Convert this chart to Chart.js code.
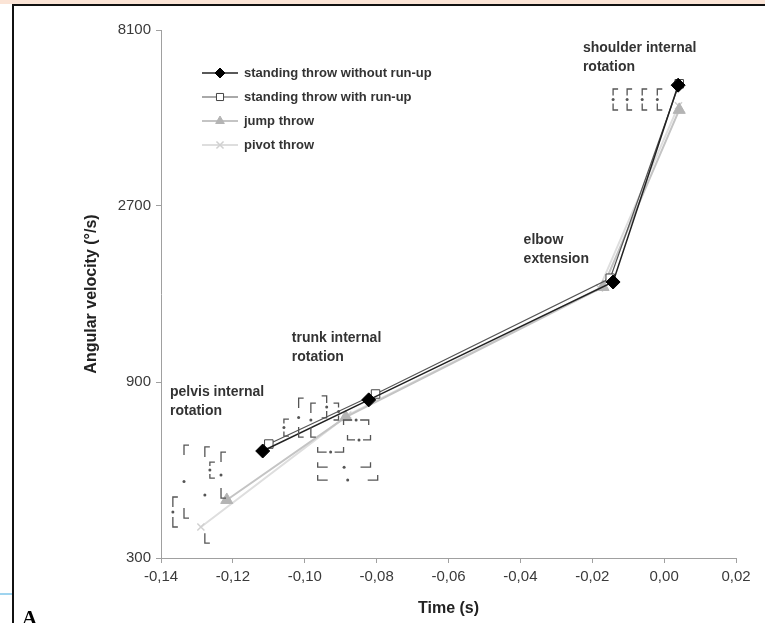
<!DOCTYPE html>
<html>
<head>
<meta charset="utf-8">
<script src="https://cdn.jsdelivr.net/npm/chart.js@4.4.1/dist/chart.umd.min.js"></script>
<style>
  html, body { margin: 0; padding: 0; background: #fff; }
  #wrap { position: relative; width: 765px; height: 623px; overflow: hidden; background: #fff; }
  #c { position: absolute; left: 0; top: 0; }
  .strip { position: absolute; left: 0; top: 0; width: 765px; height: 4px; background: #fbe4d6; }
  .topline { position: absolute; left: 12px; top: 4px; width: 753px; height: 2px; background: #111; }
  .leftline { position: absolute; left: 12px; top: 4px; width: 2px; height: 619px; background: #111; }
  .blue { position: absolute; left: 0; top: 593px; width: 12px; height: 2px; background: #9fd4ef; }
  .lett { position: absolute; left: 22px; top: 608px; font: bold 21px "Liberation Serif"; line-height: 21px; color: #000; }
</style>
</head>
<body>
<div id="wrap">
  <canvas id="c" width="765" height="623"></canvas>
  <div class="strip"></div>
  <div class="topline"></div>
  <div class="leftline"></div>
  <div class="blue"></div>
  <div class="lett">A</div>
</div>
<script>
const xTicks = [-0.14, -0.12, -0.10, -0.08, -0.06, -0.04, -0.02, 0.00, 0.02];
const yTicks = [300, 900, 2700, 8100];

const seriesNames = ['standing throw without run-up', 'standing throw with run-up', 'jump throw', 'pivot throw'];

// phase peaks: pelvis, trunk, elbow, shoulder
const tNoRun = [-0.1117, -0.0822, -0.0142, 0.0039];
const vNoRun = [585, 805, 1680, 5740];
const tRunUp = [-0.1100, -0.0803, -0.0150, 0.0042];
const vRunUp = [611, 835, 1720, 5790];
const tJump  = [-0.1217, -0.0886, -0.0170, 0.0042];
const vJump  = [431, 723, 1629, 4920];
const tPivot = [-0.1289, -0.0880, -0.0180, 0.0040];
const vPivot = [364, 732, 1618, 5050];

const phaseLabels = [['shoulder internal', 'rotation'], ['elbow', 'extension'], ['trunk internal', 'rotation'], ['pelvis internal', 'rotation']];
const phaseT = [-0.0226, -0.0391, -0.1036, -0.1375];
const phaseV = [7239, 2184, 1184, 845];

// significance brackets, vertical: time, upper value, lower value, arm side
const vBrackets = [
  [-0.0142, 5604, 4916, 1], [-0.0103, 5604, 4916, 1], [-0.0061, 5604, 4916, 1], [-0.0019, 5604, 4916, 1],
  [-0.1367, 439, 364, 1], [-0.1336, 607, 385, 1], [-0.1278, 600, 329, 1], [-0.1264, 546, 494, 1], [-0.1233, 581, 436, 1],
  [-0.1017, 814, 638, 1], [-0.0983, 789, 638, 1], [-0.0939, 825, 719, -1], [-0.0906, 789, 710, -1], [-0.1058, 714, 642, 1],
];
// horizontal: value, start time, end time, arm dir (-1 up, 1 down)
const hBrackets = [
  [529, -0.0964, -0.0817, -1], [488, -0.0964, -0.0797, -1], [581, -0.0964, -0.0892, -1],
  [627, -0.0881, -0.0817, -1], [710, -0.0892, -0.0822, 1],
];

const pts = (ts, vs) => ts.map((t, i) => ({ x: t, y: vs[i] }));
const fmtX = v => v.toFixed(2).replace('-0.00', '0.00').replace('.', ',');

const bracketPlugin = {
  id: 'brackets',
  afterDatasetsDraw(chart) {
    const { ctx, scales: { x, y } } = chart;
    ctx.save();
    ctx.strokeStyle = '#555';
    ctx.fillStyle = '#555';
    ctx.lineWidth = 1.3;
    const dot = (px, py) => { ctx.beginPath(); ctx.arc(px, py, 1.5, 0, Math.PI * 2); ctx.fill(); };
    vBrackets.forEach(([t, v1, v2, side]) => {
      const px = x.getPixelForValue(t), y1 = y.getPixelForValue(v1), y2 = y.getPixelForValue(v2);
      const arm = 5 * side, leg = Math.min(10, (y2 - y1) / 2 - 4);
      ctx.beginPath();
      ctx.moveTo(px + arm, y1); ctx.lineTo(px, y1); ctx.lineTo(px, y1 + leg);
      ctx.moveTo(px + arm, y2); ctx.lineTo(px, y2); ctx.lineTo(px, y2 - leg);
      ctx.stroke();
      dot(px, (y1 + y2) / 2);
    });
    hBrackets.forEach(([v, t1, t2, dir]) => {
      const py = y.getPixelForValue(v), x1 = x.getPixelForValue(t1), x2 = x.getPixelForValue(t2);
      const arm = 5 * dir, leg = Math.min(10, (x2 - x1) / 2 - 4);
      ctx.beginPath();
      ctx.moveTo(x1, py + arm); ctx.lineTo(x1, py); ctx.lineTo(x1 + leg, py);
      ctx.moveTo(x2, py + arm); ctx.lineTo(x2, py); ctx.lineTo(x2 - leg, py);
      ctx.stroke();
      dot((x1 + x2) / 2, py);
    });
    ctx.restore();
  }
};

const textPlugin = {
  id: 'phaseText',
  afterDraw(chart) {
    const { ctx, scales: { x, y } } = chart;
    ctx.save();
    ctx.fillStyle = '#333';
    ctx.font = 'bold 14px "Liberation Sans"';
    ctx.textBaseline = 'middle';
    phaseLabels.forEach((lines, i) => {
      const px = x.getPixelForValue(phaseT[i]), py = y.getPixelForValue(phaseV[i]);
      lines.forEach((s, k) => ctx.fillText(s, px, py + k * 19));
    });
    ctx.restore();
  }
};

const legendPlugin = {
  id: 'innerLegend',
  afterDraw(chart) {
    const { ctx, chartArea } = chart;
    const x0 = chartArea.left + 41, y0 = chartArea.top + 43;
    ctx.save();
    chart.data.datasets.forEach((ds, i) => {
      const yy = y0 + i * 24;
      ctx.strokeStyle = ds.borderColor;
      ctx.lineWidth = ds.borderWidth;
      ctx.beginPath(); ctx.moveTo(x0, yy); ctx.lineTo(x0 + 36, yy); ctx.stroke();
      ctx.fillStyle = ds.pointBackgroundColor;
      ctx.strokeStyle = ds.pointBorderColor;
      ctx.lineWidth = ds.pointBorderWidth;
      Chart.helpers.drawPoint(ctx, { pointStyle: ds.pointStyle, radius: 5, borderWidth: ds.pointBorderWidth, rotation: 0 }, x0 + 18, yy);
      ctx.fillStyle = '#333';
      ctx.font = 'bold 13px "Liberation Sans"';
      ctx.textBaseline = 'middle';
      ctx.fillText(ds.label, x0 + 42, yy);
    });
    ctx.restore();
  }
};

const tickFont = { family: 'Liberation Sans', size: 15 };
const titleFont = { family: 'Liberation Sans', size: 16, weight: 'bold' };

new Chart(document.getElementById('c'), {
  type: 'line',
  data: {
    datasets: [
      { label: seriesNames[0], data: pts(tNoRun, vNoRun), borderColor: '#222', borderWidth: 1.5,
        pointStyle: 'rectRot', pointRadius: 7, pointBackgroundColor: '#000', pointBorderColor: '#000', pointBorderWidth: 1 },
      { label: seriesNames[1], data: pts(tRunUp, vRunUp), borderColor: '#555', borderWidth: 1.2,
        pointStyle: 'rect', pointRadius: 6, pointBackgroundColor: '#fff', pointBorderColor: '#444', pointBorderWidth: 1 },
      { label: seriesNames[2], data: pts(tJump, vJump), borderColor: '#c4c4c4', borderWidth: 2,
        pointStyle: 'triangle', pointRadius: 7, pointBackgroundColor: '#b4b4b4', pointBorderColor: '#b4b4b4', pointBorderWidth: 1 },
      { label: seriesNames[3], data: pts(tPivot, vPivot), borderColor: '#dedede', borderWidth: 2,
        pointStyle: 'crossRot', pointRadius: 5, pointBackgroundColor: '#d0d0d0', pointBorderColor: '#d0d0d0', pointBorderWidth: 1.5 },
    ]
  },
  options: {
    responsive: false,
    animation: false,
    devicePixelRatio: 1,
    layout: { padding: { left: 0, right: 29, top: 30, bottom: 0 } },
    plugins: { legend: { display: false }, tooltip: { enabled: false } },
    scales: {
      x: {
        type: 'linear', min: -0.14, max: 0.02,
        afterBuildTicks: s => { s.ticks = xTicks.map(v => ({ value: v })); },
        afterFit: s => { s.height = 65; },
        ticks: { callback: v => fmtX(v), color: '#3a3a3a', font: tickFont, padding: 5, maxRotation: 0, autoSkip: false },
        grid: { drawOnChartArea: false, tickLength: 5, tickColor: '#a0a0a0' },
        border: { color: '#a0a0a0' },
        title: { display: true, text: 'Time (s)', color: '#222', font: titleFont, padding: { top: 0, bottom: 5 } }
      },
      y: {
        type: 'logarithmic', min: 300, max: 8100,
        afterBuildTicks: s => { s.ticks = yTicks.map(v => ({ value: v })); },
        afterFit: s => { s.width = 161; },
        ticks: { callback: v => String(v), color: '#3a3a3a', font: tickFont, padding: 5 },
        grid: { drawOnChartArea: false, tickLength: 5, tickColor: '#a0a0a0' },
        border: { color: '#a0a0a0' },
        title: { display: true, text: 'Angular velocity (°/s)', color: '#222', font: titleFont, padding: { top: 82, bottom: 0 } }
      }
    }
  },
  plugins: [bracketPlugin, textPlugin, legendPlugin]
});
</script>
</body>
</html>
